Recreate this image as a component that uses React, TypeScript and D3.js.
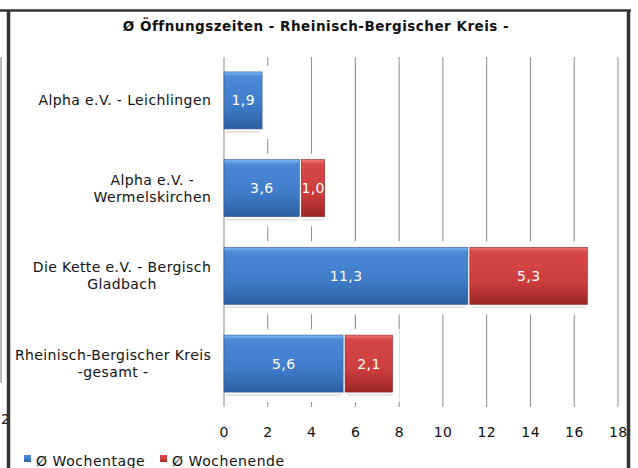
import * as d3 from 'd3';
import React from 'react';

// chart data
const categories = [
  ['Alpha e.V. - Leichlingen'],
  ['Alpha e.V. -', 'Wermelskirchen'],
  ['Die Kette e.V. - Bergisch', 'Gladbach'],
  ['Rheinisch-Bergischer Kreis', '-gesamt -'],
];
const wochentage = [1.9, 3.6, 11.3, 5.6];
const wochenende = [null, 1.0, 5.3, 2.1];
const xTicks = [0, 2, 4, 6, 8, 10, 12, 14, 16, 18];
const seriesNames = ['Ø Wochentage', 'Ø Wochenende'];
const title = 'Ø Öffnungszeiten - Rheinisch-Bergischer Kreis -';

const W = 638;
const H = 468;
const FONT = 'DejaVu Sans, Verdana, sans-serif';
const FS = 14;
const LS = 0.4; // extra spacing, the original font is a bit wider

const fmt = (v: number) => v.toFixed(1).replace('.', ',');

let ctx: CanvasRenderingContext2D | null = null;
function measure(t: string) {
  if (!ctx) ctx = document.createElement('canvas').getContext('2d');
  if (!ctx) return t.length * 7.3;
  ctx.font = `${FS}px DejaVu Sans`;
  return ctx.measureText(t).width + t.length * LS;
}

function App() {
  const x = d3.scaleLinear().domain([0, 18]).range([224, 618]);
  const y = d3.scaleBand<number>()
    .domain(d3.range(categories.length))
    .range([57, 407])
    .paddingInner(0.35)
    .paddingOuter(0.17);
  const bw = y.bandwidth();
  const labelRight = 211;

  return (
    <svg width={W} height={H} style={{ position: 'absolute', left: 0, top: 0, background: '#fff' }}
      fontFamily={FONT}>
      <defs>
        <linearGradient id="gBlue" x1="0" y1="0" x2="0" y2="1">
          <stop offset="0" stopColor="#7cb8f2" />
          <stop offset="0.08" stopColor="#4b8ad8" />
          <stop offset="0.6" stopColor="#3f7bc8" />
          <stop offset="1" stopColor="#2e5f9f" />
        </linearGradient>
        <linearGradient id="gRed" x1="0" y1="0" x2="0" y2="1">
          <stop offset="0" stopColor="#f27a7a" />
          <stop offset="0.08" stopColor="#d84848" />
          <stop offset="0.6" stopColor="#cc3e3e" />
          <stop offset="1" stopColor="#9b2626" />
        </linearGradient>
      </defs>

      {/* stray line & label from neighbouring chart */}
      <line x1={1} x2={1} y1={57} y2={383} stroke="#bbb" strokeWidth={2} />
      <text x={1} y={424} fontSize={FS} fill="#222">2</text>

      {/* title */}
      <text x={316} y={31} textAnchor="middle" fontSize={13.5} fontWeight="bold" letterSpacing={0.5} fill="#111">{title}</text>

      {/* grid */}
      {xTicks.map(t => (
        <line key={t} x1={x(t)} x2={x(t)} y1={57} y2={407} stroke="#8a8a8a" strokeWidth={1} />
      ))}

      {/* bars */}
      {categories.map((_, i) => {
        const y0 = y(i)!;
        const a = wochentage[i];
        const b = wochenende[i];
        const end = b == null ? x(a) : x(a + b);
        return (
          <g key={i}>
            <rect x={x(0) + 1} y={y0 - 6} width={end - x(0) + 6} height={bw + 16} fill="#fff" />
            <line x1={x(0) + 2} x2={x(a) - 6} y1={y0 + bw + 3} y2={y0 + bw + 3} stroke="#e4e4e4" strokeWidth={2} />
            {b != null && (
              <line x1={x(a) + 1} x2={end} y1={y0 + bw + 3} y2={y0 + bw + 3} stroke="#e4e4e4" strokeWidth={2} />
            )}
            <rect x={x(0)} y={y0} width={x(a) - x(0) - 3.5} height={bw} fill="url(#gBlue)" stroke="#2a5590" strokeWidth={0.6} />
            <text x={(x(0) + x(a) - 3.5) / 2 + LS / 2} y={y0 + bw / 2 + 5} textAnchor="middle" fontSize={FS} letterSpacing={LS} fill="#fff">{fmt(a)}</text>
            {b != null && (
              <>
                <rect x={x(a) - 1.5} y={y0} width={x(a + b) - x(a) + 1.5} height={bw} fill="url(#gRed)" stroke="#8a2222" strokeWidth={0.6} />
                <text x={(x(a) - 1.5 + x(a + b)) / 2 + LS / 2} y={y0 + bw / 2 + 5} textAnchor="middle" fontSize={FS} letterSpacing={LS} fill="#fff">{fmt(b)}</text>
              </>
            )}
          </g>
        );
      })}

      {/* category labels */}
      {categories.map((lines, i) => {
        const maxW = Math.max(...lines.map(measure));
        const cx = labelRight - maxW / 2 + LS / 2;
        const cy = y(i)! + bw / 2;
        const lh = 17;
        const top = cy - ((lines.length - 1) * lh) / 2 + 5;
        return (
          <text key={i} textAnchor="middle" fontSize={FS} letterSpacing={LS} fill="#111">
            {lines.map((l, j) => (
              <tspan key={j} x={cx} y={top + j * lh}>{l}</tspan>
            ))}
          </text>
        );
      })}

      {/* x tick labels */}
      {xTicks.map(t => (
        <text key={t} x={x(t) + LS / 2} y={437} textAnchor="middle" fontSize={FS} letterSpacing={LS} fill="#111">{t}</text>
      ))}

      {/* legend */}
      {seriesNames.map((n, i) => {
        const lx = [24, 160][i];
        return (
          <g key={n}>
            <rect x={lx} y={455} width={7} height={7} fill={i === 0 ? 'url(#gBlue)' : 'url(#gRed)'} />
            <text x={lx + 12} y={466} fontSize={14} letterSpacing={0.55} fill="#111">{n}</text>
          </g>
        );
      })}

      {/* frame */}
      <line x1={0} x2={631} y1={10.5} y2={10.5} stroke="#333" strokeWidth={2.5} />
      <line x1={8.5} x2={8.5} y1={10} y2={H} stroke="#333" strokeWidth={3.5} />
      <line x1={628.5} x2={628.5} y1={10} y2={H} stroke="#333" strokeWidth={3.5} />
    </svg>
  );
}

export default App;
